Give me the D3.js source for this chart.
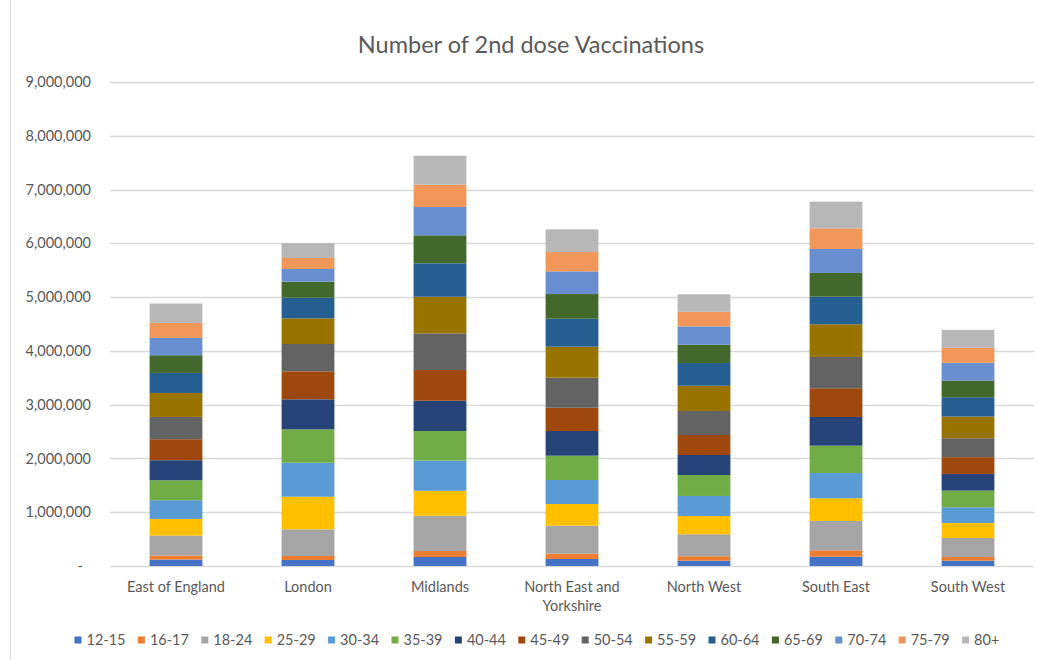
<!DOCTYPE html>
<html>
<head>
<meta charset="utf-8">
<script src="https://cdn.jsdelivr.net/npm/d3@7"></script>
<style>
  body { margin: 0; background: #fff; }
  svg { display: block; font-family: Lato, "Open Sans", sans-serif; }
</style>
</head>
<body>
<script>
// regions along the x axis
var categories = ["East of England", "London", "Midlands", "North East and Yorkshire",
                  "North West", "South East", "South West"];

// age bands, bottom of the stack first
var ageGroups = ["12-15", "16-17", "18-24", "25-29", "30-34", "35-39", "40-44", "45-49",
                 "50-54", "55-59", "60-64", "65-69", "70-74", "75-79", "80+"];

var colors = ["#4472C4", "#ED7D31", "#A5A5A5", "#FFC000", "#5B9BD5", "#70AD47", "#264478",
              "#9E480E", "#636363", "#997300", "#255E91", "#43682B", "#698ED0", "#F1975A", "#B7B7B7"];

// 2nd doses per region, one value per age band
var eastOfEngland = [120000, 74000, 372000, 309000, 348000, 372000, 372000, 390000, 415000, 446000, 372000, 329000, 322000, 279000, 361000];
var london        = [112000, 74000, 496000, 606000, 632000, 621000, 558000, 521000, 508000, 478000, 383000, 298000, 236000, 205000, 273000];
var midlands      = [167000, 112000, 656000, 465000, 558000, 552000, 563000, 571000, 682000, 681000, 621000, 521000, 526000, 415000, 539000];
var northEastYork = [130000, 99000, 521000, 403000, 446000, 452000, 459000, 433000, 558000, 576000, 521000, 459000, 422000, 359000, 422000];
var northWest     = [99000, 82000, 409000, 340000, 372000, 390000, 372000, 372000, 446000, 470000, 422000, 340000, 342000, 271000, 324000];
var southEast     = [173000, 119000, 545000, 422000, 470000, 508000, 534000, 534000, 582000, 608000, 513000, 441000, 446000, 385000, 495000];
var southWest     = [99000, 69000, 353000, 279000, 292000, 309000, 311000, 311000, 353000, 402000, 361000, 309000, 329000, 279000, 335000];

var yTicks = [0, 1000000, 2000000, 3000000, 4000000, 5000000, 6000000, 7000000, 8000000, 9000000];

var regionValues = [eastOfEngland, london, midlands, northEastYork, northWest, southEast, southWest];

// table for d3.stack: one row per region, one column per age band
var table = categories.map(function(c, i){
  var row = {region: c};
  ageGroups.forEach(function(g, j){ row[g] = regionValues[i][j]; });
  return row;
});

var w = 1039, h = 660;
var plotLeft = 110, plotRight = 1034, plotTop = 82, plotBottom = 566;

var svg = d3.select("body").append("svg")
  .attr("width", w)
  .attr("height", h);

// chart frame
svg.append("line").attr("x1", 10.5).attr("x2", 10.5).attr("y1", 0).attr("y2", h)
  .attr("stroke", "#D9D9D9");

var x = d3.scaleBand().domain(categories).range([plotLeft, plotRight])
  .paddingInner(0.6).paddingOuter(0.3);
var y = d3.scaleLinear().domain([0, 9000000]).range([plotBottom, plotTop]);

// gridlines
svg.append("g").selectAll("line").data(yTicks).enter().append("line")
  .attr("x1", plotLeft).attr("x2", plotRight)
  .attr("y1", function(d){ return Math.round(y(d)) + 0.5; })
  .attr("y2", function(d){ return Math.round(y(d)) + 0.5; })
  .attr("stroke", "#D9D9D9").attr("stroke-width", 1.3);

// y axis labels
var yAxis = svg.append("g").attr("transform", "translate(" + plotLeft + ",0)")
  .call(d3.axisLeft(y).tickValues(yTicks).tickSize(0).tickPadding(19)
    .tickFormat(function(d){ return d === 0 ? "-" : d3.format(",")(d); }));
yAxis.select(".domain").remove();
yAxis.selectAll("text").attr("fill", "#595959").style("font-size", "14.5px")
  .style("font-family", "Lato, sans-serif");
yAxis.selectAll(".tick").filter(function(d){ return d === 0; }).select("text").attr("x", -27);

// stacked bars
var series = d3.stack().keys(ageGroups)(table);
svg.append("g").selectAll("g").data(series).enter().append("g")
  .attr("fill", function(d, i){ return colors[i]; })
  .selectAll("rect").data(function(d){ return d; }).enter().append("rect")
    .attr("x", function(d){ return x(d.data.region); })
    .attr("width", x.bandwidth())
    .attr("y", function(d){ return y(d[1]); })
    .attr("height", function(d){ return y(d[0]) - y(d[1]); });

// category labels (Excel wraps the long one)
var catLines = {"North East and Yorkshire": ["North East and", "Yorkshire"]};
var xLabels = svg.append("g").selectAll("text").data(categories).enter().append("text")
  .attr("x", function(d){ return x(d) + x.bandwidth() / 2; })
  .attr("y", 592)
  .attr("text-anchor", "middle")
  .attr("fill", "#595959")
  .style("font-size", "14.5px");
xLabels.each(function(d){
  var lines = catLines[d] || [d];
  var t = d3.select(this);
  lines.forEach(function(l, i){
    t.append("tspan").attr("x", x(d) + x.bandwidth() / 2).attr("dy", i ? 19 : 0).text(l);
  });
});

// title
svg.append("text")
  .attr("x", 531).attr("y", 53)
  .attr("text-anchor", "middle")
  .attr("fill", "#595959")
  .style("font-size", "23.5px")
  .text("Number of 2nd dose Vaccinations");

// legend
var legendX = 74.5, legendStep = 63.4;
var legend = svg.append("g").selectAll("g").data(ageGroups).enter().append("g")
  .attr("transform", function(d, i){ return "translate(" + (legendX + i * legendStep) + ",640)"; });
legend.append("rect")
  .attr("x", 0).attr("y", -3.5).attr("width", 7).attr("height", 7)
  .attr("fill", function(d, i){ return colors[i]; });
legend.append("text")
  .attr("x", 12).attr("y", 5)
  .attr("fill", "#595959")
  .style("font-size", "14.5px")
  .text(function(d){ return d; });
</script>
</body>
</html>
